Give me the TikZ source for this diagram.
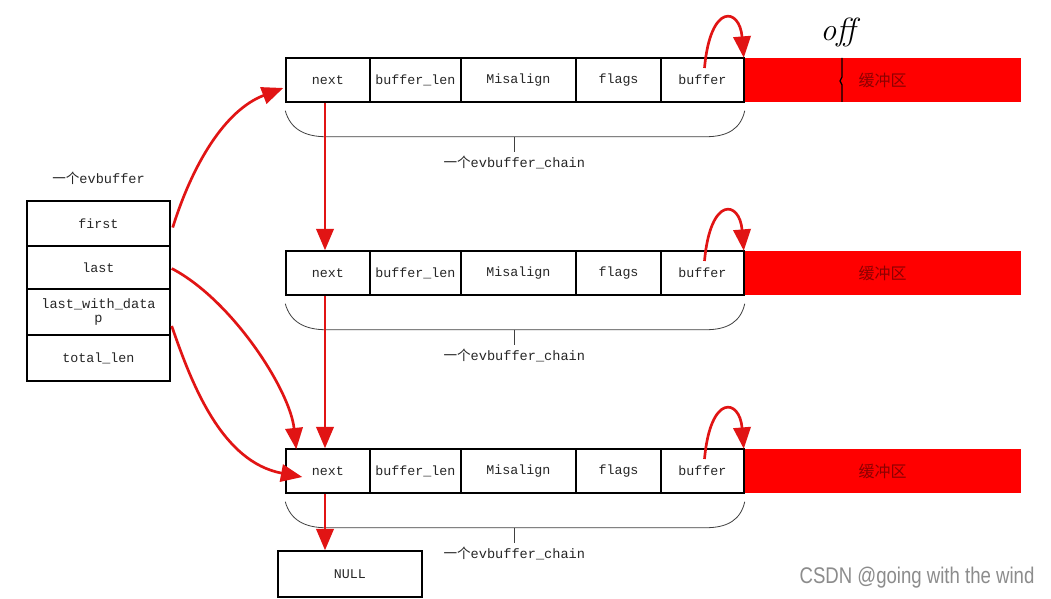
\documentclass[tikz,border=0pt]{standalone}
\usepackage{fontspec}
\usetikzlibrary{arrows.meta,calc}
\newfontfamily\monof{Liberation Mono}
\newfontfamily\cjkf{Noto Sans CJK SC}
\newfontfamily\wmf{Liberation Sans}
\definecolor{arrred}{RGB}{225,20,20}
\definecolor{bufred}{RGB}{255,0,0}
\definecolor{txtred}{RGB}{140,0,0}
\tikzset{
 cell/.style={draw=black, line width=1.1pt, fill=white, minimum height=33pt, inner sep=0pt,
   font=\monof\fontsize{10}{12}\selectfont, text=black!85},
 redcell/.style={fill=bufred, draw=none, minimum height=33pt, inner sep=0pt,
   font=\cjkf\fontsize{12}{13}\selectfont, text=txtred},
 link/.style={draw=arrred, line width=2pt, -{Triangle[length=16pt,width=13pt]}},
 bracel/.style={draw=black!75, line width=0.6pt},
 lbl/.style={font=\monof\fontsize{10.2}{12}\selectfont, text=black!85, inner sep=1pt}
}
\newcommand\chainrow[2]{%
 \node[redcell, minimum width=207.75pt] (#1red) at (882.5,#2) {缓冲区};
 \node[cell, minimum width=63pt] (#1next) at (328,#2) {next};
 \node[cell, minimum width=68.25pt] (#1len) at (415.5,#2) {buffer\_len};
 \node[cell, minimum width=86.25pt] (#1mis) at (518.5,#2) {Misalign};
 \node[cell, minimum width=63.75pt] (#1flg) at (618.5,#2) {flags};
 \node[cell, minimum width=62.25pt] (#1buf) at (702.5,#2) {buffer};
 \node[lbl] (#1lbl) at ($(#1next.south west)+(229,60)$) {{\cjkf 一个}evbuffer\_chain};
 \draw[bracel] ($(#1next.south west)+(0,8)$) .. controls ($(#1next.south west)+(5,26)$) and ($(#1next.south west)+(19,34)$) .. ($(#1next.south west)+(41,34)$)
   -- ($(#1buf.south east)+(-39,34)$) .. controls ($(#1buf.south east)+(-17,34)$) and ($(#1buf.south east)+(-4,26)$) .. ($(#1buf.south east)+(0,8)$);
 \draw[bracel] ($(#1next.south west)+(229,34)$) -- ($(#1lbl.north)+(0,-3)$);
 \draw[link] ($(#1buf.center)+(2,-12)$) .. controls ($(#1buf.center)+(8,-78)$) and ($(#1red.north west)+(-4,-50)$) .. (#1red.north west);
}
\begin{document}
\begin{tikzpicture}[x=0.75pt,y=-0.75pt]
\useasboundingbox (0,0) rectangle (1051,599);
\fill[white] (0,0) rectangle (1051,599);

\chainrow{r1}{80}
\chainrow{r2}{273}
\chainrow{r3}{471}

% off marker
\node[font=\fontsize{24}{26}\selectfont\itshape, inner sep=0pt] (off) at (838,33) {off};
\draw[black, line width=1pt] (842,58) -- (842,77) -- (840,81) -- (842,85) -- (842,102);

% evbuffer
\node[lbl] (evlbl) at (98.5,178) {{\cjkf 一个}evbuffer};
\node[cell, minimum width=107.25pt, minimum height=33.75pt] (first) at (98.5,223.5) {first};
\node[cell, minimum width=107.25pt, minimum height=32.25pt] (last) at (98.5,267.5) {last};
\node[cell, minimum width=107.25pt, minimum height=34.5pt, align=center, font=\monof\fontsize{10.2}{11}\selectfont] (lwd) at (98.5,312) {last\_with\_data\\p};
\node[cell, minimum width=107.25pt, minimum height=34.5pt] (total) at (98.5,358) {total\_len};

% NULL
\node[cell, minimum width=108pt, minimum height=34.5pt] (null) at (350,574) {NULL};

% arrows
\draw[link] ($(first.east)+(2,4)$) .. controls ($(first.east)+(22,-60)$) and ($(r1next.west)+(-60,30)$) .. ($(r1next.west)+(-2,8)$);
\draw[link] ($(last.east)+(1,1)$) .. controls (232,300) and (290,390) .. ($(r3next.north west)+(11,1)$);
\draw[link] ($(lwd.east)+(1,14)$) .. controls (192,385) and (222,462) .. ($(r3next.west)+(17,6)$);
\draw[link] ($(r1next.south)+(-3,0)$) -- ($(r2next.north)+(-3,0)$);
\draw[link] ($(r2next.south)+(-3,0)$) -- ($(r3next.north)+(-3,0)$);
\draw[link] ($(r3next.south)+(-3,0)$) -- ($(r3next.south |- null.north)+(-3,0)$);

% watermark
\node[font=\wmf\fontsize{17}{18}\selectfont, text=black!45, inner sep=0pt] (wm) at (917,578) {\scalebox{0.82}[1]{CSDN @going with the wind}};
\end{tikzpicture}
\end{document}
